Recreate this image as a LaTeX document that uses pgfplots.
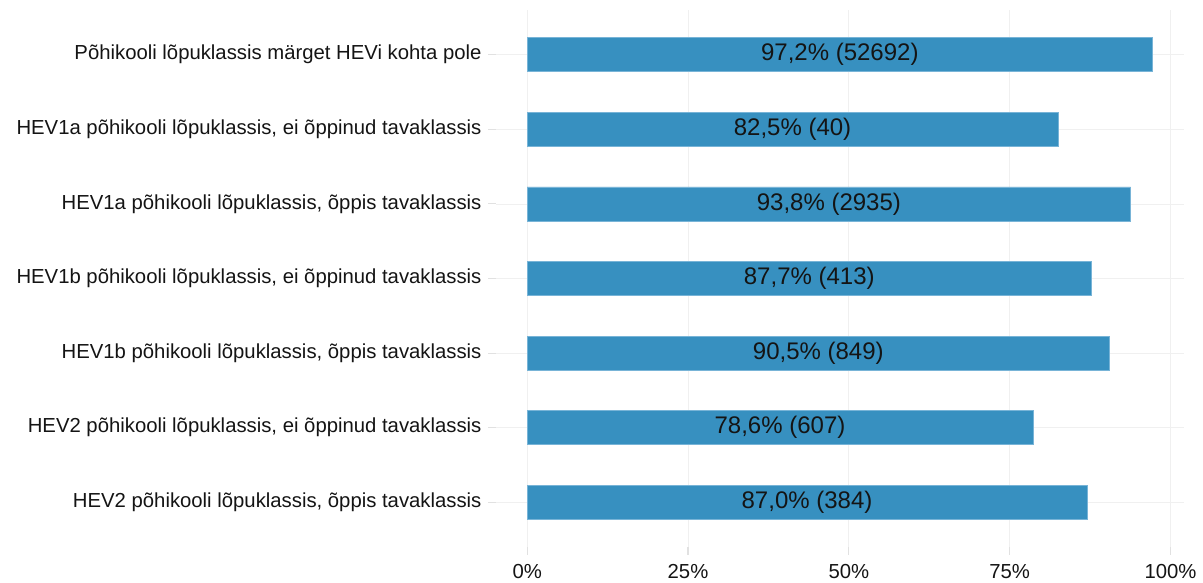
\documentclass[border=0pt]{standalone}
\usepackage{fontspec}
\setmainfont{Liberation Sans}
\usepackage{pgfplots}
\usepackage{pgfplotstable}
\pgfplotsset{compat=1.18}
\usetikzlibrary{calc}
\definecolor{barblue}{RGB}{55,144,192}
\definecolor{baredge}{RGB}{120,180,215}
\definecolor{gridc}{RGB}{240,240,240}
\definecolor{tickc}{RGB}{225,225,225}
\pgfplotstableread[col sep=semicolon]{
y;val;lab
7;97.2;97,2\% (52692)
6;82.5;82,5\% (40)
5;93.8;93,8\% (2935)
4;87.7;87,7\% (413)
3;90.5;90,5\% (849)
2;78.6;78,6\% (607)
1;87.0;87,0\% (384)
}\datatable
\begin{document}
\begin{tikzpicture}
\begin{axis}[
  scale only axis, width=688pt, height=537pt,
  xmin=-4.85, xmax=102.1, ymin=0.4, ymax=7.6,
  xtick={0,25,50,75,100},
  xticklabels={0\%,25\%,50\%,75\%,100\%},
  ytick={1,2,3,4,5,6,7},
  yticklabels={
    {HEV2 põhikooli lõpuklassis, õppis tavaklassis},
    {HEV2 põhikooli lõpuklassis, ei õppinud tavaklassis},
    {HEV1b põhikooli lõpuklassis, õppis tavaklassis},
    {HEV1b põhikooli lõpuklassis, ei õppinud tavaklassis},
    {HEV1a põhikooli lõpuklassis, õppis tavaklassis},
    {HEV1a põhikooli lõpuklassis, ei õppinud tavaklassis},
    {Põhikooli lõpuklassis märget HEVi kohta pole}},
  axis line style={draw=none},
  xtick pos=lower, ytick pos=left,
  tick align=outside, major tick length=8pt,
  tick style={draw=tickc, line width=1.1pt},
  xmajorgrids, ymajorgrids,
  grid style={draw=gridc, line width=0.8pt},
  ticklabel style={font=\fontsize{20.3}{24}\selectfont, text=black!92},
  xticklabel style={yshift=-6pt},
  yticklabel style={xshift=-3pt},
  clip=false,
]
\addplot[xbar, bar width=0.455, fill=barblue, draw=baredge, line width=0.6pt]
  table[x=val, y=y] {\datatable};
\addplot[draw=none, mark=none, nodes near coords, point meta=explicit symbolic,
  nodes near coords style={anchor=center, font=\fontsize{24}{28}\selectfont, text=black!92}]
  table[x expr=\thisrow{val}/2, y=y, meta=lab] {\datatable};
\end{axis}
\path ($(current axis.south west)+(-496pt,-34pt)$) rectangle ($(current axis.north east)+(19pt,10pt)$);
\end{tikzpicture}
\end{document}
